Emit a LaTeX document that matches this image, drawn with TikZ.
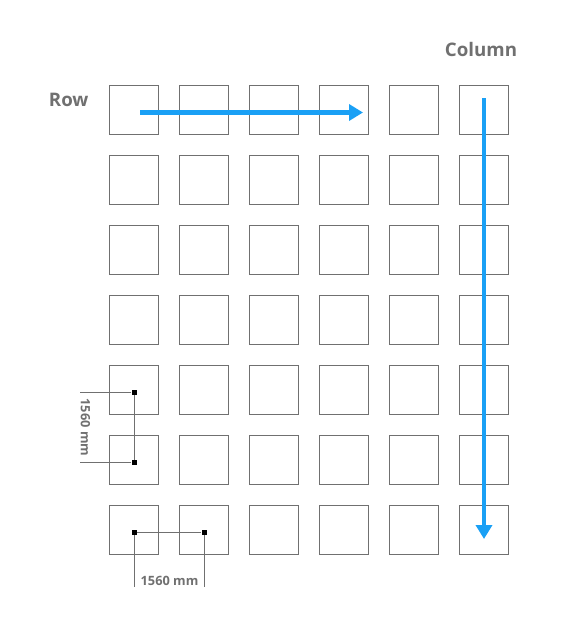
\documentclass[tikz,border=0pt]{standalone}
\usepackage{fontspec}
\setmainfont{Open Sans}
\usetikzlibrary{arrows.meta}

\definecolor{linegray}{RGB}{112,112,112}
\definecolor{arrowblue}{RGB}{26,160,245}

\tikzset{
  cell/.style={draw=linegray, line width=1pt, minimum size=49pt, inner sep=0pt},
  dot/.style={fill=black, minimum size=5pt, inner sep=0pt, yshift=-2.5pt},
  dim/.style={draw=linegray, line width=1pt},
  flow/.style={draw=arrowblue, line width=4.5pt, -{Triangle[length=14pt, width=16pt]}},
  title/.style={font=\bfseries\fontsize{18.7}{22}\selectfont},
  dimtext/.style={font=\bfseries\fontsize{12.8}{15}\selectfont, inner sep=0pt}
}

\begin{document}
\begin{tikzpicture}[x=1pt, y=-1pt, text=linegray]
  \useasboundingbox (0,0) rectangle (579,637);

  % grid of cells
  \foreach \i in {0,...,5} {
    \foreach \j in {0,...,6} {
      \node[cell] (c\i\j) at (134+70*\i, 110+70*\j) {};
    }
  }

  \node[title, anchor=base east] (row) at (92,106.7) {Row};
  \node[title, anchor=base] (column) at (481,56.7) {Column};

  \draw[flow] ([xshift=6pt, yshift=-2.5pt]c00.center) -- ([xshift=19pt, yshift=-2.5pt]c30.center);
  \draw[flow] ([yshift=11.7pt]c50.center) -- ([yshift=-9pt]c56.center);

  % vertical dimension
  \node[dot] (vtop) at (c04) {};
  \node[dot] (vbot) at (c05) {};
  \coordinate (vtopend) at (80,392.5);
  \coordinate (vbotend) at (80,462.5);
  \draw[dim] (vtop) -- (vbot);
  \draw[dim] (vtop) -- (vtopend);
  \draw[dim] (vbot) -- (vbotend);
  \node[dimtext, rotate=-90] (vlabel) at (85.5,427.5) {1560 mm};

  % horizontal dimension
  \node[dot] (hleft) at (c06) {};
  \node[dot] (hright) at (c16) {};
  \coordinate (hleftend) at (134,587);
  \coordinate (hrightend) at (204,587);
  \draw[dim] (hleft) -- (hright);
  \draw[dim] (hleft) -- (hleftend);
  \draw[dim] (hright) -- (hrightend);
  \node[dimtext, anchor=base] (hlabel) at (169.5,585) {1560 mm};
\end{tikzpicture}
\end{document}
